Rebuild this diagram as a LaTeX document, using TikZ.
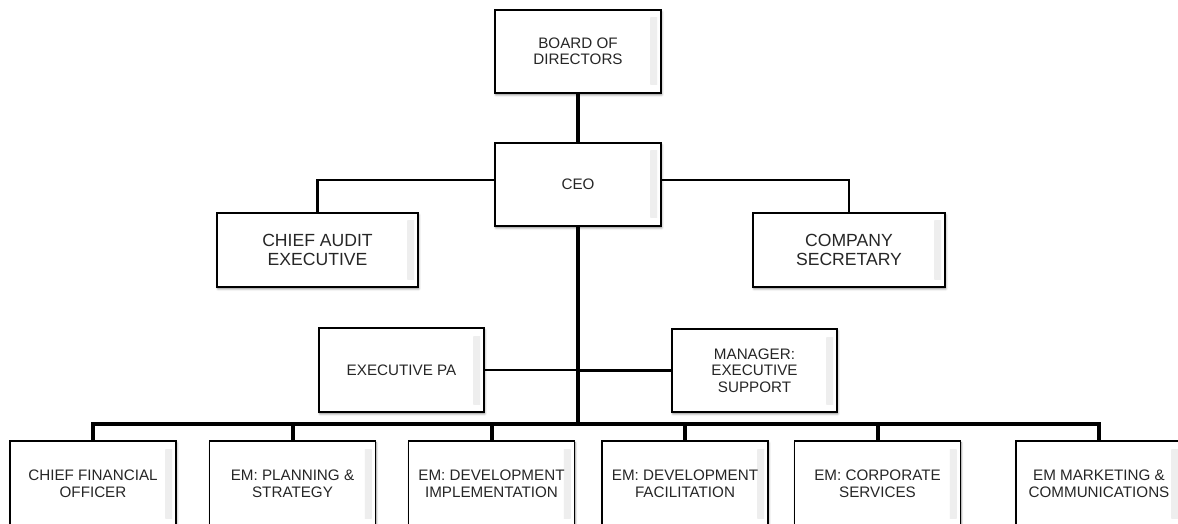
\documentclass[tikz,border=0pt]{standalone}
\usepackage{fontspec}
\setmainfont{Liberation Sans}
\usetikzlibrary{shadows.blur}
\tikzset{
  orgbox/.style={draw=black, line width=1.4pt, fill=white, rectangle,
    align=center, text=black!85, font=\fontsize{11.4}{12.4}\selectfont,
    inner sep=2pt,
    blur shadow={shadow xshift=0.6pt, shadow yshift=-1.4pt, shadow blur radius=1.6pt, shadow opacity=45},
    path picture={
      \shade[left color=white, right color=black!7]
        ([xshift=-8pt,yshift=-6pt]path picture bounding box.north east)
        rectangle ([xshift=-3pt,yshift=6pt]path picture bounding box.south east);
    }},
  bigtext/.style={font=\fontsize{13.2}{13.6}\selectfont},
  thinline/.style={line width=1.6pt, line join=miter},
  thickline/.style={line width=3pt, line join=miter},
}
\begin{document}
\begin{tikzpicture}[x=0.75pt, y=-0.75pt]
\useasboundingbox (0,0) rectangle (1178,524);
\clip (0,0) rectangle (1178,524);
% top
\node[orgbox, minimum width=124.5pt, minimum height=62.25pt] (board) at (578,51.5) {BOARD OF\\DIRECTORS};
\node[orgbox, minimum width=124.5pt, minimum height=62.25pt] (ceo) at (578,184.5) {CEO};
\node[orgbox, bigtext, minimum width=150.75pt, minimum height=55.5pt] (cae) at (317.5,250) {CHIEF AUDIT\\EXECUTIVE};
\node[orgbox, bigtext, minimum width=144pt, minimum height=55.5pt] (cs) at (849,250) {COMPANY\\SECRETARY};
\node[orgbox, minimum width=123.75pt, minimum height=63pt] (pa) at (401.5,370) {EXECUTIVE PA};
\node[orgbox, minimum width=123.75pt, minimum height=62.25pt] (mes) at (754.5,370.5) {MANAGER:\\EXECUTIVE\\SUPPORT};
% bottom row
\node[orgbox, minimum width=124.5pt, minimum height=63.75pt] (cfo) at (93,483.5) {CHIEF FINANCIAL\\OFFICER};
\node[orgbox, minimum width=124.5pt, minimum height=63.75pt] (eps) at (292.5,483.5) {EM: PLANNING \&\\STRATEGY};
\node[orgbox, minimum width=124.5pt, minimum height=63.75pt] (edi) at (491.5,483.5) {EM: DEVELOPMENT\\IMPLEMENTATION};
\node[orgbox, minimum width=124.5pt, minimum height=63.75pt] (edf) at (685,483.5) {EM: DEVELOPMENT\\FACILITATION};
\node[orgbox, minimum width=124.5pt, minimum height=63.75pt] (ecs) at (877.5,483.5) {EM: CORPORATE\\SERVICES};
\node[orgbox, minimum width=124.5pt, minimum height=63.75pt] (emc) at (1099,483.5) {EM MARKETING \&\\COMMUNICATIONS};
% connectors
\coordinate (bus) at (578,424);
\draw[thickline] (board.south) -- (ceo.north);
\draw[thinline] ([yshift=3.4pt]ceo.west) -| (cae.north);
\draw[thinline] ([yshift=3.4pt]ceo.east) -| (cs.north);
\draw[thickline] (ceo.south) -- (bus);
\draw[thinline] (pa.east) -- (pa.east -| bus);
\draw[thinline] (mes.west) -- (mes.west -| bus);
\draw[thickline] (cfo.north) |- (bus) -| (emc.north);
\draw[thickline] (eps.north) -- (eps.north |- bus);
\draw[thickline] (edi.north) -- (edi.north |- bus);
\draw[thickline] (edf.north) -- (edf.north |- bus);
\draw[thickline] (ecs.north) -- (ecs.north |- bus);
\end{tikzpicture}
\end{document}
